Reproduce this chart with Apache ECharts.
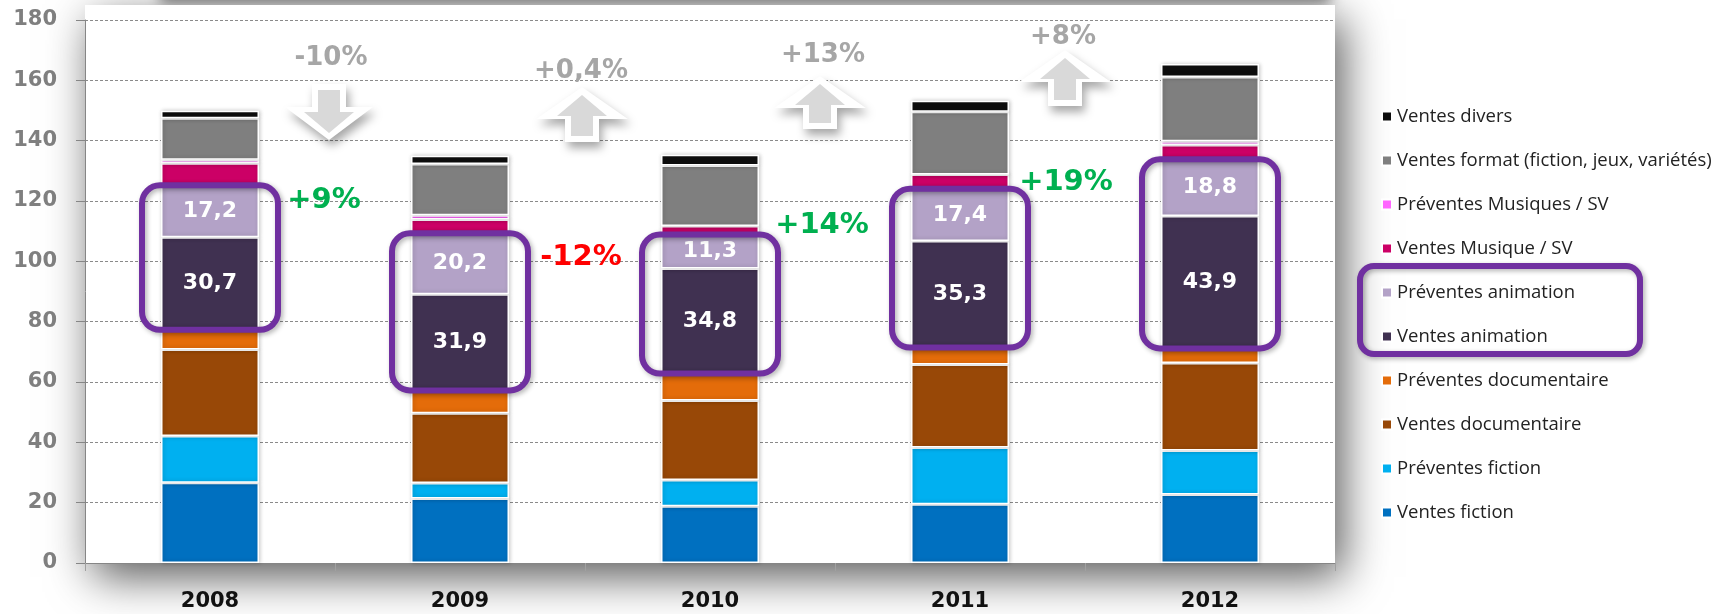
<!DOCTYPE html>
<html>
<head>
<meta charset="utf-8" />
<title>Ventes par genre</title>
<script src="https://cdn.jsdelivr.net/npm/echarts@6/dist/echarts.min.js"></script>
<style>
	html, body {margin: 0; padding: 0; background: #fff;}
	#main {width: 1719px; height: 614px;}
</style>
</head>
<body>
<div id="main"></div>
<script type="text/javascript">
	// données (M€)
	var years = ['2008', '2009', '2010', '2011', '2012'];
	var ventesFiction = [26.6, 21.4, 18.8, 19.5, 22.7];
	var preventesFiction = [15.5, 5.1, 8.7, 18.8, 14.6];
	var ventesDoc = [28.7, 23.1, 26.4, 27.5, 29.0];
	var preventesDoc = [6.5, 7.6, 8.9, 5.6, 4.8];
	var ventesAnim = [30.7, 31.9, 34.8, 35.3, 43.9];
	var preventesAnim = [17.2, 20.2, 11.3, 17.4, 18.8];
	var ventesMusique = [7.3, 4.6, 2.8, 4.7, 4.8];
	var preventesMusique = [1.2, 1.4, 0, 0, 1.2];
	var ventesFormat = [13.7, 17.0, 20.1, 20.8, 21.3];
	var ventesDivers = [2.5, 2.7, 3.5, 3.6, 4.3];

	var yMin = 0, yMax = 180, yStep = 20;

	// évolutions affichées entre les années
	var totalGrowth = ['-10%', '+0,4%', '+13%', '+8%'];
	var totalDir = ['down', 'up', 'up', 'up'];
	var animGrowth = ['+9%', '-12%', '+14%', '+19%'];

	// mise en page des annotations (pixels)
	var totalLabelPos = [[331, 58], [581, 71], [823, 55], [1063, 37]];
	var arrowPos = [[329, 90, 133], [582, 95, 136], [820, 84, 123], [1065, 58, 100]]; // cx, haut, bas (flèche grise)
	var animLabelPos = [[324, 200], [581, 257], [822, 225], [1066, 182]];

	var seriesDefs = [
		['Ventes fiction', '#0070C0', ventesFiction],
		['Préventes fiction', '#00B0F0', preventesFiction],
		['Ventes documentaire', '#984807', ventesDoc],
		['Préventes documentaire', '#E46C0A', preventesDoc],
		['Ventes animation', '#403151', ventesAnim],
		['Préventes animation', '#B3A2C7', preventesAnim],
		['Ventes Musique / SV', '#CC0066', ventesMusique],
		['Préventes Musiques / SV', '#FF66FF', preventesMusique],
		['Ventes format (fiction, jeux, variétés)', '#7F7F7F', ventesFormat],
		['Ventes divers', '#0D0D0D', ventesDivers]
	];

	var myChart = echarts.init(document.getElementById('main'));

	function buildSeries() {
		var list = [];
		for (var i = 0; i < seriesDefs.length; i++) {
			var sName = seriesDefs[i][0];
			var s = {
				name: sName,
				type: 'bar',
				stack: 'total',
				barWidth: 98,
				data: seriesDefs[i][2],
				itemStyle: {color: seriesDefs[i][1], borderColor: '#fff', borderWidth: 1.5,
					shadowBlur: 4, shadowOffsetX: 1, shadowColor: 'rgba(0,0,0,0.22)'},
				emphasis: {disabled: true}
			};
			if (sName == 'Ventes animation' || sName == 'Préventes animation') {
				s.label = {
					show: true,
					position: 'inside',
					color: '#fff',
					fontFamily: 'DejaVu Sans',
					fontWeight: 'bold',
					fontSize: 22,
					formatter: function (p) { return p.value.toFixed(1).replace('.', ','); }
				};
			}
			list.push(s);
		}
		return list;
	}

	var legendNames = seriesDefs.map(function (d) { return d[0]; }).reverse();

	var option = {
		backgroundColor: '#fff',
		animation: false,
		grid: {left: 85, right: 384, top: 20, bottom: 51},
		legend: {
			orient: 'vertical',
			left: 1376,
			top: 102,
			data: legendNames,
			icon: 'rect',
			itemWidth: 10,
			itemHeight: 10,
			itemGap: 25,
			textStyle: {fontFamily: 'Open Sans', fontSize: 18.5, color: '#222', lineHeight: 18}
		},
		xAxis: {
			type: 'category',
			data: years,
			axisLine: {lineStyle: {color: '#868686', width: 1}},
			axisTick: {show: true, alignWithLabel: false, length: 8, lineStyle: {color: '#a0a0a0'}},
			axisLabel: {fontFamily: 'DejaVu Sans', fontWeight: 'bold', fontSize: 21, color: '#111', margin: 28}
		},
		yAxis: {
			type: 'value',
			min: yMin,
			max: yMax,
			interval: yStep,
			axisLine: {show: true, lineStyle: {color: '#868686', width: 1}},
			axisTick: {show: true, length: 9, lineStyle: {color: '#868686'}},
			axisLabel: {fontFamily: 'DejaVu Sans', fontWeight: 'bold', fontSize: 21, color: '#7f7f7f', margin: 28},
			splitLine: {lineStyle: {color: '#8a8a8a', type: [3, 2], width: 1}}
		},
		series: buildSeries()
	};
	myChart.setOption(option);

	function arrowPoints(cx, yTop, yBot, dir, hw, sw, hl) {
		if (dir == 'down') {
			return [[cx - sw, yTop], [cx + sw, yTop], [cx + sw, yBot - hl], [cx + hw, yBot - hl],
				[cx, yBot], [cx - hw, yBot - hl], [cx - sw, yBot - hl]];
		}
		return [[cx - sw, yBot], [cx + sw, yBot], [cx + sw, yTop + hl], [cx + hw, yTop + hl],
			[cx, yTop], [cx - hw, yTop + hl], [cx - sw, yTop + hl]];
	}

	function buildGraphics() {
		var g = [];
		// cadre blanc ombré de la zone de tracé
		g.push({
			type: 'rect', z: -20,
			shape: {x: 85, y: 5, width: 1250, height: 558},
			style: {fill: '#fff', shadowBlur: 42, shadowOffsetX: 8, shadowOffsetY: 14, shadowColor: 'rgba(0,0,0,0.65)'}
		});
		g.push({
			type: 'rect', z: -21,
			shape: {x: 160, y: -40, width: 1170, height: 40},
			style: {fill: '#fff', shadowBlur: 14, shadowOffsetY: 2, shadowColor: 'rgba(0,0,0,0.55)'}
		});

		for (var k = 0; k < totalGrowth.length; k++) {
			var cx = arrowPos[k][0], aTop = arrowPos[k][1], aBot = arrowPos[k][2];
			var dir = totalDir[k];
			var outer = dir == 'down'
				? arrowPoints(cx, aTop - 6, aBot + 7, dir, 44, 17, 33)
				: arrowPoints(cx, aTop - 8, aBot + 6, dir, 46, 17, 32);
			g.push({
				type: 'polygon', z: 50,
				shape: {points: outer},
				style: {fill: '#fff', shadowBlur: 10, shadowOffsetX: 3, shadowOffsetY: 6, shadowColor: 'rgba(0,0,0,0.35)'}
			});
			g.push({
				type: 'polygon', z: 51,
				shape: {points: arrowPoints(cx, aTop, aBot, dir, 25, 11, 21)},
				style: {fill: '#D9D9D9'}
			});
			g.push({
				type: 'text', z: 60,
				x: totalLabelPos[k][0], y: totalLabelPos[k][1],
				style: {text: totalGrowth[k], fill: '#A6A6A6', font: 'bold 26px "DejaVu Sans"', align: 'center', verticalAlign: 'middle'}
			});
			g.push({
				type: 'text', z: 60,
				x: animLabelPos[k][0], y: animLabelPos[k][1],
				style: {text: animGrowth[k], fill: animGrowth[k].charAt(0) == '-' ? '#FF0000' : '#00B050',
					font: 'bold 29px "DejaVu Sans"', align: 'center', verticalAlign: 'middle'}
			});
		}

		// encadrés violets autour des segments animation
		for (var j = 0; j < years.length; j++) {
			var base = ventesFiction[j] + preventesFiction[j] + ventesDoc[j] + preventesDoc[j];
			var topV = base + ventesAnim[j] + preventesAnim[j];
			var pTop = myChart.convertToPixel({gridIndex: 0}, [years[j], topV]);
			var pBot = myChart.convertToPixel({gridIndex: 0}, [years[j], base]);
			g.push({
				type: 'rect', z: 40,
				shape: {x: pTop[0] - 68, y: pTop[1], width: 136, height: pBot[1] - pTop[1], r: 18},
				style: {fill: 'none', stroke: '#7030A0', lineWidth: 6,
					shadowBlur: 5, shadowOffsetX: 2, shadowOffsetY: 2, shadowColor: 'rgba(0,0,0,0.3)'}
			});
		}

		// encadré de la légende
		g.push({
			type: 'rect', z: 40,
			shape: {x: 1360, y: 266, width: 280, height: 88, r: 14},
			style: {fill: 'none', stroke: '#7030A0', lineWidth: 6,
				shadowBlur: 5, shadowOffsetX: 2, shadowOffsetY: 2, shadowColor: 'rgba(0,0,0,0.3)'}
		});
		return g;
	}

	myChart.setOption({graphic: buildGraphics()});
</script>
</body>
</html>
